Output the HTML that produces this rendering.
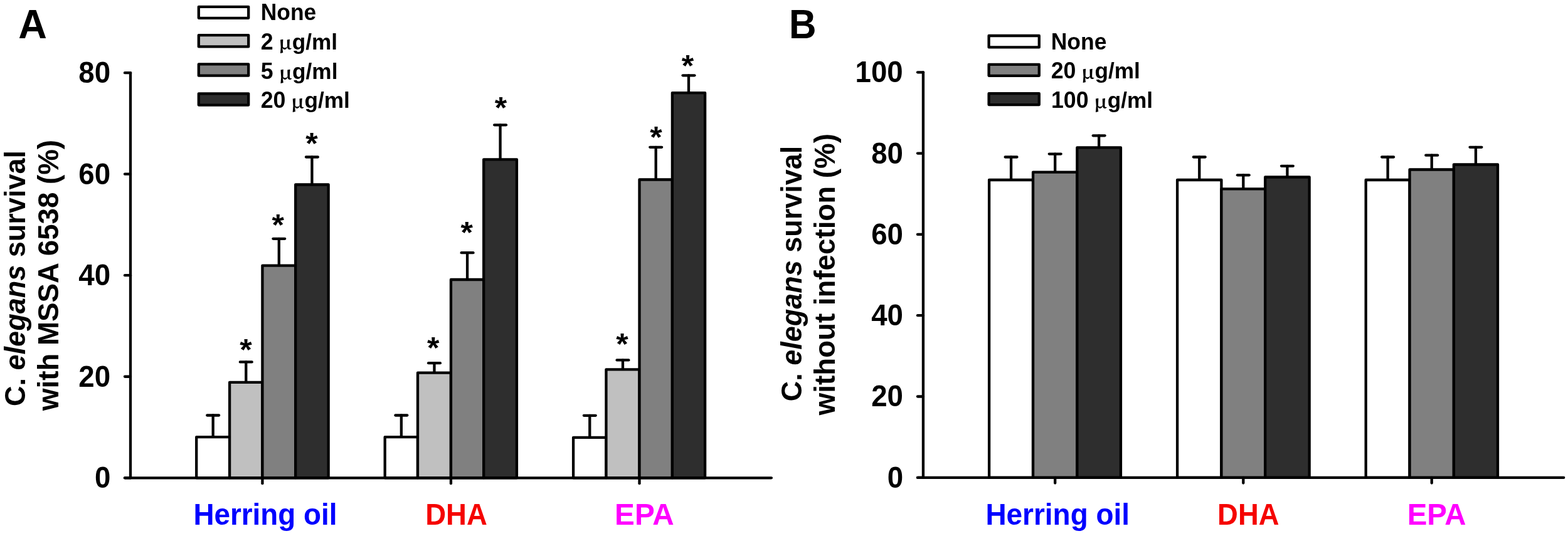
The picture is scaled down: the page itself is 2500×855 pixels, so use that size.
<!DOCTYPE html>
<html><head><meta charset="utf-8"><title>C. elegans survival</title>
<style>html,body{margin:0;padding:0;background:#fff;overflow:hidden}svg{display:block}</style>
</head><body>
<svg width="2500" height="855" viewBox="0 0 2500 855">
<rect width="2500" height="855" fill="#fff"/>
<g stroke="#000" stroke-width="4.3" stroke-linecap="round" stroke-linejoin="round">
<line x1="339.65" y1="697.10" x2="339.65" y2="662.50"/>
<line x1="330.25" y1="662.50" x2="349.05" y2="662.50"/>
<line x1="392.25" y1="609.90" x2="392.25" y2="577.40"/>
<line x1="382.85" y1="577.40" x2="401.65" y2="577.40"/>
<line x1="444.80" y1="423.60" x2="444.80" y2="380.80"/>
<line x1="435.40" y1="380.80" x2="454.20" y2="380.80"/>
<line x1="497.42" y1="294.50" x2="497.42" y2="250.50"/>
<line x1="488.02" y1="250.50" x2="506.82" y2="250.50"/>
<line x1="639.85" y1="697.10" x2="639.85" y2="662.50"/>
<line x1="630.45" y1="662.50" x2="649.25" y2="662.50"/>
<line x1="692.48" y1="594.70" x2="692.48" y2="579.20"/>
<line x1="683.08" y1="579.20" x2="701.88" y2="579.20"/>
<line x1="745.08" y1="446.00" x2="745.08" y2="403.20"/>
<line x1="735.68" y1="403.20" x2="754.48" y2="403.20"/>
<line x1="797.58" y1="254.30" x2="797.58" y2="199.30"/>
<line x1="788.18" y1="199.30" x2="806.98" y2="199.30"/>
<line x1="940.28" y1="697.90" x2="940.28" y2="662.80"/>
<line x1="930.88" y1="662.80" x2="949.68" y2="662.80"/>
<line x1="992.98" y1="589.30" x2="992.98" y2="574.40"/>
<line x1="983.58" y1="574.40" x2="1002.38" y2="574.40"/>
<line x1="1045.70" y1="286.50" x2="1045.70" y2="234.80"/>
<line x1="1036.30" y1="234.80" x2="1055.10" y2="234.80"/>
<line x1="1098.00" y1="148.10" x2="1098.00" y2="120.30"/>
<line x1="1088.60" y1="120.30" x2="1107.40" y2="120.30"/>
<rect x="313.20" y="697.10" width="52.90" height="65.20" fill="#ffffff"/>
<rect x="366.10" y="609.90" width="52.30" height="152.40" fill="#c0c0c0"/>
<rect x="418.40" y="423.60" width="52.80" height="338.70" fill="#808080"/>
<rect x="471.20" y="294.50" width="52.45" height="467.80" fill="#2e2e2e"/>
<rect x="613.70" y="697.10" width="52.30" height="65.20" fill="#ffffff"/>
<rect x="666.00" y="594.70" width="52.95" height="167.60" fill="#c0c0c0"/>
<rect x="718.95" y="446.00" width="52.25" height="316.30" fill="#808080"/>
<rect x="771.20" y="254.30" width="52.75" height="508.00" fill="#2e2e2e"/>
<rect x="914.10" y="697.90" width="52.35" height="64.40" fill="#ffffff"/>
<rect x="966.45" y="589.30" width="53.05" height="173.00" fill="#c0c0c0"/>
<rect x="1019.50" y="286.50" width="52.40" height="475.80" fill="#808080"/>
<rect x="1071.90" y="148.10" width="52.20" height="614.20" fill="#2e2e2e"/>
<line x1="208.00" y1="116.14" x2="208.00" y2="762.30"/>
<line x1="199.00" y1="762.30" x2="208.00" y2="762.30"/>
<line x1="199.00" y1="600.76" x2="208.00" y2="600.76"/>
<line x1="199.00" y1="439.22" x2="208.00" y2="439.22"/>
<line x1="199.00" y1="277.68" x2="208.00" y2="277.68"/>
<line x1="199.00" y1="116.14" x2="208.00" y2="116.14"/>
<line x1="199.00" y1="762.30" x2="1229.90" y2="762.30"/>
<line x1="418.40" y1="762.30" x2="418.40" y2="771.20"/>
<line x1="718.95" y1="762.30" x2="718.95" y2="771.20"/>
<line x1="1019.50" y1="762.30" x2="1019.50" y2="771.20"/>
<rect x="316.8" y="10.8" width="79.4" height="18.00" fill="#ffffff"/>
<rect x="316.8" y="56.1" width="79.4" height="18.30" fill="#c0c0c0"/>
<rect x="316.8" y="102.4" width="79.4" height="18.30" fill="#808080"/>
<rect x="316.8" y="149.3" width="79.4" height="18.30" fill="#2e2e2e"/>
<line x1="1612.07" y1="287.00" x2="1612.07" y2="250.50"/>
<line x1="1602.67" y1="250.50" x2="1621.47" y2="250.50"/>
<line x1="1682.20" y1="274.70" x2="1682.20" y2="245.60"/>
<line x1="1672.80" y1="245.60" x2="1691.60" y2="245.60"/>
<line x1="1752.15" y1="235.40" x2="1752.15" y2="216.30"/>
<line x1="1742.75" y1="216.30" x2="1761.55" y2="216.30"/>
<line x1="1912.25" y1="287.00" x2="1912.25" y2="250.50"/>
<line x1="1902.85" y1="250.50" x2="1921.65" y2="250.50"/>
<line x1="1982.30" y1="301.30" x2="1982.30" y2="279.30"/>
<line x1="1972.90" y1="279.30" x2="1991.70" y2="279.30"/>
<line x1="2052.43" y1="282.50" x2="2052.43" y2="264.80"/>
<line x1="2043.03" y1="264.80" x2="2061.83" y2="264.80"/>
<line x1="2212.62" y1="287.00" x2="2212.62" y2="250.50"/>
<line x1="2203.22" y1="250.50" x2="2222.03" y2="250.50"/>
<line x1="2282.73" y1="270.50" x2="2282.73" y2="247.70"/>
<line x1="2273.33" y1="247.70" x2="2292.13" y2="247.70"/>
<line x1="2352.95" y1="262.50" x2="2352.95" y2="234.80"/>
<line x1="2343.55" y1="234.80" x2="2362.35" y2="234.80"/>
<rect x="1577.10" y="287.00" width="69.95" height="474.80" fill="#ffffff"/>
<rect x="1647.05" y="274.70" width="70.30" height="487.10" fill="#808080"/>
<rect x="1717.35" y="235.40" width="69.60" height="526.40" fill="#2e2e2e"/>
<rect x="1877.10" y="287.00" width="70.30" height="474.80" fill="#ffffff"/>
<rect x="1947.40" y="301.30" width="69.80" height="460.50" fill="#808080"/>
<rect x="2017.20" y="282.50" width="70.45" height="479.30" fill="#2e2e2e"/>
<rect x="2177.70" y="287.00" width="69.85" height="474.80" fill="#ffffff"/>
<rect x="2247.55" y="270.50" width="70.35" height="491.30" fill="#808080"/>
<rect x="2317.90" y="262.50" width="70.10" height="499.30" fill="#2e2e2e"/>
<line x1="1471.95" y1="115.30" x2="1471.95" y2="761.80"/>
<line x1="1463.00" y1="761.80" x2="1471.95" y2="761.80"/>
<line x1="1463.00" y1="632.50" x2="1471.95" y2="632.50"/>
<line x1="1463.00" y1="503.20" x2="1471.95" y2="503.20"/>
<line x1="1463.00" y1="373.90" x2="1471.95" y2="373.90"/>
<line x1="1463.00" y1="244.60" x2="1471.95" y2="244.60"/>
<line x1="1463.00" y1="115.30" x2="1471.95" y2="115.30"/>
<line x1="1463.00" y1="761.80" x2="2493.20" y2="761.80"/>
<line x1="1682.20" y1="761.80" x2="1682.20" y2="770.50"/>
<line x1="1982.30" y1="761.80" x2="1982.30" y2="770.50"/>
<line x1="2282.73" y1="761.80" x2="2282.73" y2="770.50"/>
<rect x="1576.6" y="57.0" width="80.2" height="18.40" fill="#ffffff"/>
<rect x="1576.6" y="102.8" width="80.2" height="18.00" fill="#808080"/>
<rect x="1576.6" y="149.2" width="80.2" height="17.90" fill="#2e2e2e"/>
</g>
<g font-family="'Liberation Sans', Arial, sans-serif" font-weight="bold" fill="#000">
<text transform="translate(29.30,60.60) scale(0.9796,1)" font-size="64.5" fill="#000">A</text>
<text transform="translate(1257.88,60.70) scale(0.9353,1)" font-size="64.5" fill="#000">B</text>
<text transform="translate(415.72,32.30) scale(0.9757,1)" font-size="36.3" fill="#000">None</text>
<text transform="translate(415.65,78.60) scale(0.985,1)" font-size="36.3">2</text>
<text transform="translate(444.28,79.40) scale(1.08,1)" font-size="29.7" font-family="'Noto Serif CJK SC', 'Liberation Serif', serif">μ</text>
<text transform="translate(465.73,78.60) scale(0.9699,0.96)" font-size="36.3">g/ml</text>
<text transform="translate(415.65,125.70) scale(0.985,1)" font-size="36.3">5</text>
<text transform="translate(444.63,126.50) scale(1.08,1)" font-size="29.7" font-family="'Noto Serif CJK SC', 'Liberation Serif', serif">μ</text>
<text transform="translate(466.09,125.70) scale(0.9699,0.96)" font-size="36.3">g/ml</text>
<text transform="translate(415.65,171.80) scale(0.985,1)" font-size="36.3">20</text>
<text transform="translate(463.94,172.60) scale(1.08,1)" font-size="29.7" font-family="'Noto Serif CJK SC', 'Liberation Serif', serif">μ</text>
<text transform="translate(485.40,171.80) scale(0.9699,0.96)" font-size="36.3">g/ml</text>
<text transform="translate(1675.72,78.70) scale(0.9780,1)" font-size="36.3" fill="#000">None</text>
<text transform="translate(1675.70,124.80) scale(0.985,1)" font-size="36.3">20</text>
<text transform="translate(1723.99,125.60) scale(1.08,1)" font-size="29.7" font-family="'Noto Serif CJK SC', 'Liberation Serif', serif">μ</text>
<text transform="translate(1745.45,124.80) scale(0.9699,0.96)" font-size="36.3">g/ml</text>
<text transform="translate(1675.90,171.70) scale(0.985,1)" font-size="36.3">100</text>
<text transform="translate(1744.22,172.50) scale(1.08,1)" font-size="29.7" font-family="'Noto Serif CJK SC', 'Liberation Serif', serif">μ</text>
<text transform="translate(1765.67,171.70) scale(0.9699,0.96)" font-size="36.3">g/ml</text>
<text transform="translate(150.92,778.20) scale(0.9650,1)" font-size="47.3" fill="#000">0</text>
<text transform="translate(125.36,616.66) scale(0.9650,1)" font-size="47.3" fill="#000">20</text>
<text transform="translate(125.36,455.12) scale(0.9650,1)" font-size="47.3" fill="#000">40</text>
<text transform="translate(125.36,293.58) scale(0.9650,1)" font-size="47.3" fill="#000">60</text>
<text transform="translate(125.36,132.04) scale(0.9650,1)" font-size="47.3" fill="#000">80</text>
<text transform="translate(1414.72,777.70) scale(0.9650,1)" font-size="47.3" fill="#000">0</text>
<text transform="translate(1389.16,648.40) scale(0.9650,1)" font-size="47.3" fill="#000">20</text>
<text transform="translate(1389.16,519.10) scale(0.9650,1)" font-size="47.3" fill="#000">40</text>
<text transform="translate(1389.16,389.80) scale(0.9650,1)" font-size="47.3" fill="#000">60</text>
<text transform="translate(1389.16,260.50) scale(0.9650,1)" font-size="47.3" fill="#000">80</text>
<text transform="translate(1363.60,131.20) scale(0.9650,1)" font-size="47.3" fill="#000">100</text>
<text transform="translate(308.39,837.40) scale(0.9582,1)" font-size="47.8" fill="#0000ff">Herring oil</text>
<text transform="translate(678.21,837.40) scale(0.9530,1)" font-size="47.8" fill="#f50300">DHA</text>
<text transform="translate(980.06,837.40) scale(0.9982,1)" font-size="47.8" fill="#ff00ff">EPA</text>
<text transform="translate(1571.38,837.40) scale(0.9612,1)" font-size="47.8" fill="#0000ff">Herring oil</text>
<text transform="translate(1941.12,837.40) scale(0.9500,1)" font-size="47.8" fill="#f50300">DHA</text>
<text transform="translate(2243.68,837.40) scale(0.9915,1)" font-size="47.8" fill="#ff00ff">EPA</text>
<text transform="translate(39.80,648.00) rotate(-90) scale(0.9688,1)" font-size="46.5">C. <tspan font-style="italic">elegans</tspan> survival</text>
<text transform="translate(92.50,654.90) rotate(-90) scale(0.9817,1)" font-size="46.5">with MSSA 6538 (%)</text>
<text transform="translate(1278.40,640.20) rotate(-90) scale(0.9671,1)" font-size="46.5">C. <tspan font-style="italic">elegans</tspan> survival</text>
<text transform="translate(1330.90,662.20) rotate(-90) scale(0.9827,1)" font-size="46.5">without infection (%)</text>
<text transform="translate(382.32,574.29) scale(1.04,1)" font-size="48.0">*</text>
<text transform="translate(433.47,374.94) scale(1.04,1)" font-size="48.0">*</text>
<text transform="translate(487.37,245.14) scale(1.04,1)" font-size="48.0">*</text>
<text transform="translate(681.12,571.14) scale(1.04,1)" font-size="48.0">*</text>
<text transform="translate(734.42,387.39) scale(1.04,1)" font-size="48.0">*</text>
<text transform="translate(788.77,187.94) scale(1.04,1)" font-size="48.0">*</text>
<text transform="translate(982.27,564.59) scale(1.04,1)" font-size="48.0">*</text>
<text transform="translate(1036.32,235.44) scale(1.04,1)" font-size="48.0">*</text>
<text transform="translate(1086.82,121.14) scale(1.04,1)" font-size="48.0">*</text>
</g>
</svg>
</body></html>
